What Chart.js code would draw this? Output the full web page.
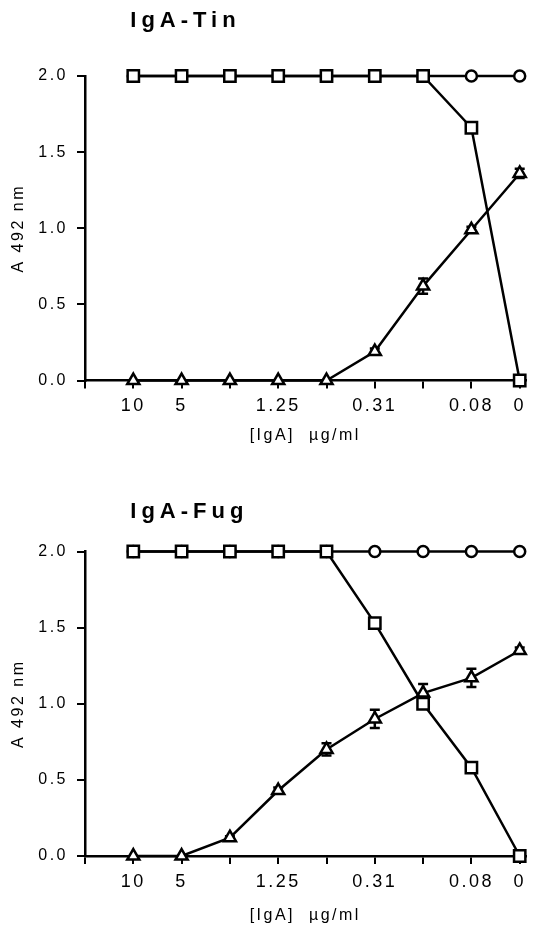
<!DOCTYPE html>
<html>
<head>
<meta charset="utf-8">
<title>IgA-Tin / IgA-Fug</title>
<script src="https://cdn.jsdelivr.net/npm/chart.js"></script>
<style>
body{margin:0;background:#fff;}
canvas{display:block;}
</style>
</head>
<body>
<canvas id="tin" width="536" height="463"></canvas>
<canvas id="fug" width="536" height="464"></canvas>
<script>
// dilution series, [IgA] ug/ml (index 0..8)
const conc=['10','5','2.5','1.25','0.63','0.31','0.16','0.08','0'];
const tickLabels=['10','5','','1.25','','0.31','','0.08','0'];
const xTicks=[-1,0,1,2,3,4,5,6,7,8];
const yTicks=[0,0.5,1.0,1.5,2.0];

// IgA-Tin
const tinCircles=[2,2,2,2,2,2,2,2,2];
const tinSquares=[2,2,2,2,2,2,2,1.66,0];
const tinTriangles=[0,0,0,0,0,0.19,0.62,0.99,1.36];
const tinErr=[0,0,0,0,0,0.02,0.05,0.02,0.03];

// IgA-Fug
const fugCircles=[2,2,2,2,2,2,2,2,2];
const fugSquares=[2,2,2,2,2,1.53,1.0,0.58,0];
const fugTriangles=[0,0,0.12,0.43,0.70,0.90,1.07,1.17,1.35];
const fugErr=[0,0,0.01,0.02,0.04,0.06,0.06,0.06,0.02];

const FONT='"Liberation Sans", Arial, Helvetica, sans-serif';
const pts=arr=>arr.map((v,i)=>({x:i,y:v}));

const spacing={id:'spacing',
beforeUpdate(c){c.ctx.letterSpacing='2.5px';},
beforeDraw(c){c.ctx.letterSpacing='2.5px';}
};

const errBars={id:'errBars',
beforeDatasetsDraw(c,args,o){
const ctx=c.ctx,x=c.scales.x,y=c.scales.y;
ctx.save();
ctx.strokeStyle='#000';
ctx.lineWidth=2.5;
o.err.forEach((e,i)=>{
if(!e)return;
const v=o.vals[i];
const px=x.getPixelForValue(i);
const y1=y.getPixelForValue(v+e),y2=y.getPixelForValue(v-e);
ctx.beginPath();
ctx.moveTo(px,y1);ctx.lineTo(px,y2);
ctx.moveTo(px-5,y1);ctx.lineTo(px+5,y1);
ctx.moveTo(px-5,y2);ctx.lineTo(px+5,y2);
ctx.stroke();
});
ctx.restore();
}
};

const panelTitle={id:'panelTitle',
afterDraw(c,args,o){
const ctx=c.ctx;
ctx.save();
ctx.font='bold 22px '+FONT;
ctx.letterSpacing='5px';
ctx.fillStyle='#000';
ctx.textBaseline='middle';
ctx.textAlign='left';
ctx.fillText(o.text,c.scales.x.getPixelForValue(0)-3,o.y);
ctx.restore();
}
};

function ds(label,vals,order,style,r){
return {label,data:pts(vals),order,pointStyle:style,pointRadius:r,
borderColor:'#000',borderWidth:2.5,pointBorderColor:'#000',pointBackgroundColor:'#fff',
pointBorderWidth:2.5,clip:false};
}

function makeChart(id,title,circles,squares,triangles,errs,lay){
return new Chart(document.getElementById(id),{
type:'line',
data:{datasets:[
ds('circles',circles,2,'circle',5.5),
ds('triangles',triangles,1,'triangle',7),
ds('squares',squares,0,'rect',8)
]},
options:{
responsive:false,
animation:false,
events:[],
layout:{padding:{top:lay.top,left:0,right:5,bottom:0}},
plugins:{
legend:{display:false},
tooltip:{enabled:false},
errBars:{vals:triangles,err:errs},
panelTitle:{text:title,y:lay.titleY}
},
scales:{
x:{type:'linear',min:-1,max:8.12,
afterBuildTicks:s=>{s.ticks=xTicks.map(v=>({value:v}));},
afterFit:s=>{s.height=lay.xh;},
ticks:{autoSkip:false,maxRotation:0,padding:7,color:'#000',font:{size:18,family:FONT},
callback:v=>tickLabels[v]??''},
grid:{drawOnChartArea:false,drawTicks:true,tickLength:8,color:'#000',lineWidth:2},
border:{color:'#000',width:2.5},
title:{display:true,text:'[IgA]  µg/ml',color:'#000',font:{size:16,family:FONT},padding:{top:0,bottom:lay.tb}}
},
y:{min:0,max:2,
afterBuildTicks:s=>{s.ticks=yTicks.map(v=>({value:v}));},
afterFit:s=>{s.width=85;},
ticks:{padding:9,color:'#000',font:{size:16,family:FONT},callback:v=>v.toFixed(1)},
grid:{drawOnChartArea:false,drawTicks:true,tickLength:8,color:'#000',lineWidth:2},
border:{color:'#000',width:2.5},
title:{display:true,text:'A 492 nm',color:'#000',font:{size:16,family:FONT},padding:{top:9,bottom:0}}
}
}
},
plugins:[spacing,errBars,panelTitle]
});
}

makeChart('tin','IgA-Tin',tinCircles,tinSquares,tinTriangles,tinErr,{top:76,xh:82.5,tb:17.5,titleY:21});
makeChart('fug','IgA-Fug',fugCircles,fugSquares,fugTriangles,fugErr,{top:88.5,xh:71,tb:2,titleY:49});
</script>
</body>
</html>
